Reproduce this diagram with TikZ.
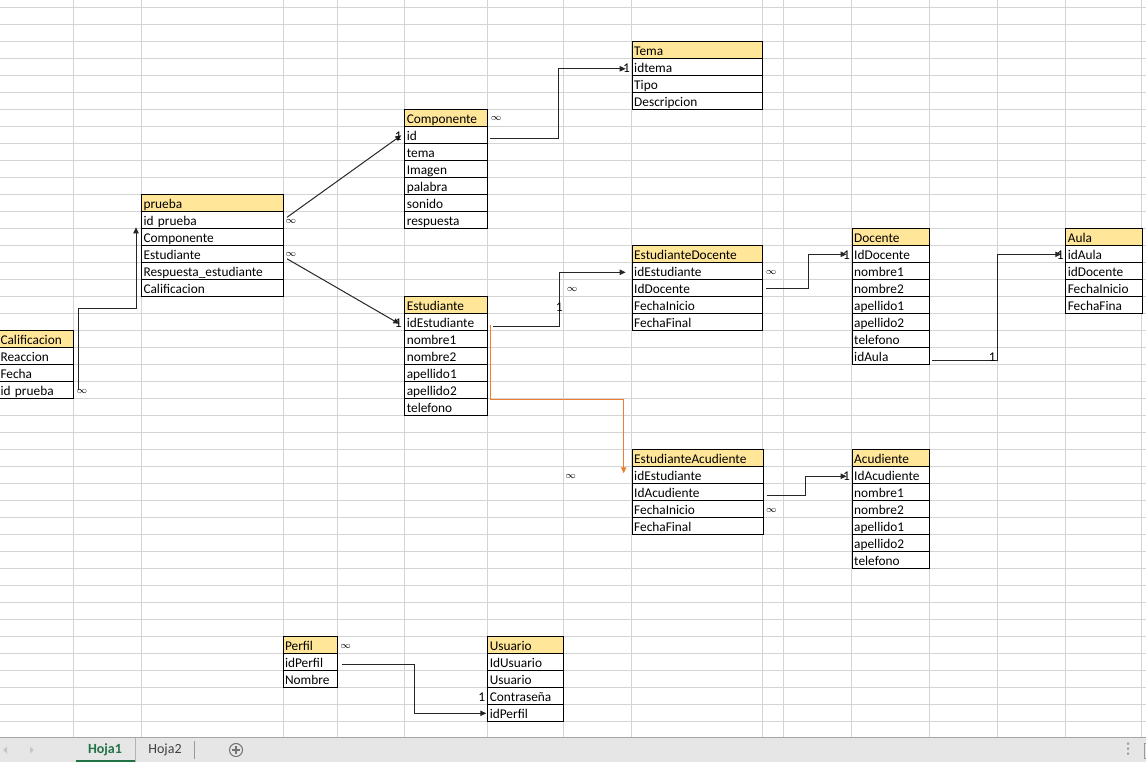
\documentclass[tikz,border=0pt]{standalone}
\usepackage{fontspec}
\setmainfont{Carlito}
\usetikzlibrary{arrows.meta, calc}
\definecolor{gridgray}{RGB}{212,212,212}
\definecolor{headyellow}{RGB}{255,230,153}
\definecolor{linkorange}{RGB}{237,125,49}
\definecolor{tabgray}{RGB}{230,230,230}
\definecolor{excelgreen}{RGB}{33,115,70}

% one table: name, left, top, width (px), title, fields
\newcommand{\ertable}[6]{%
  \pgfmathsetmacro{\tw}{#4*0.75-3}%
  \node[hdr, text width=\tw pt, anchor=north west] (#1-0) at (#2,#3) {#5};%
  \foreach \f [count=\i] in {#6} {%
    \node[fld, text width=\tw pt, anchor=north west] (#1-\i) at (#2,#3+17*\i) {\f};%
  }%
}

\begin{document}
\begin{tikzpicture}[x=0.75pt, y=-0.75pt,
  gridline/.style={draw=gridgray, line width=0.75pt},
  fld/.style={draw=black, line width=0.75pt, fill=white, minimum height=12.75pt, inner xsep=1.5pt, inner ysep=0pt, text height=8pt, text depth=0pt, font=\fontsize{10}{12}\selectfont, align=left},
  hdr/.style={fld, fill=headyellow},
  conn/.style={draw=black!85, line width=0.75pt, -{Triangle[length=4.5pt, width=4pt]}},
  link/.style={conn, draw=linkorange},
  card/.style={font=\fontsize{10}{12}\selectfont, inner sep=0pt},
  many/.style={font=\fontsize{7}{7}\selectfont, inner sep=0pt},
]
\useasboundingbox (0,0) rectangle (1146,762);
\clip (0,0) rectangle (1146,762);

% Sheet grid
\foreach \k in {0,...,43}
  \draw[gridline] (0,7.3+17*\k) -- (1146,7.3+17*\k);
\foreach \c in {73,141,283,337,404.3,487.3,563.3,631.7,762.3,783.3,851.7,929.3,997.3,1065.3,1141.5}
  \draw[gridline] (\c,0) -- (\c,737);

% === Tables ===
\ertable{tema}{631.7}{41.3}{130.6}{Tema}{idtema, Tipo, Descripcion}
\ertable{comp}{404.3}{109.3}{83}{Componente}{id, tema, Imagen, palabra, sonido, respuesta}
\ertable{prueba}{141}{194.3}{142}{prueba}{id prueba, Componente, Estudiante, Respuesta\_estudiante, Calificacion}
\ertable{calif}{-2}{330.3}{75}{Calificacion}{Reaccion, Fecha, id prueba}
\ertable{est}{404.3}{296.3}{83}{Estudiante}{idEstudiante, nombre1, nombre2, apellido1, apellido2, telefono}
\ertable{edoc}{631.7}{245.3}{130.6}{EstudianteDocente}{idEstudiante, IdDocente, FechaInicio, FechaFinal}
\ertable{doc}{851.7}{228.3}{77.6}{Docente}{IdDocente, nombre1, nombre2, apellido1, apellido2, telefono, idAula}
\ertable{aula}{1065.3}{228.3}{76.2}{Aula}{idAula, idDocente, FechaInicio, FechaFina}
\ertable{eacu}{631.7}{449.3}{130.8}{EstudianteAcudiente}{idEstudiante, IdAcudiente, FechaInicio, FechaFinal}
\ertable{acud}{851.7}{449.3}{77.6}{Acudiente}{IdAcudiente, nombre1, nombre2, apellido1, apellido2, telefono}
\ertable{perfil}{282.5}{636.3}{54.2}{Perfil}{idPerfil, Nombre}
\ertable{usu}{487.3}{636.3}{76}{Usuario}{IdUsuario, Usuario, Contraseña, idPerfil}

% === Relations ===
% prueba -> Componente
\draw[conn] ($(prueba-1.east)+(3,-3)$) -- ($(comp-1.west)+(-3,0)$);
\node[many] (inf-pc) at ($(prueba-1.east)+(7,1.5)$) {$\infty$};
\node[card, anchor=east] (one-pc) at ($(comp-1.west)+(-2.5,0.5)$) {1};

% prueba -> Estudiante
\draw[conn] ($(prueba-3.east)+(3,4.5)$) -- ($(est-1.west)+(-5,1.5)$);
\node[many] (inf-pe) at ($(prueba-3.east)+(7,0.5)$) {$\infty$};
\node[card, anchor=east] (one-pe) at ($(est-1.west)+(-2.5,1)$) {1};

% Calificacion -> prueba
\draw[conn] ($(calif-3.east)+(4,0)$) -- ++(0,-82) -| ($(prueba-1.south west)+(-5,-2)$);
\node[many] (inf-cp) at ($(calif-3.east)+(8,1)$) {$\infty$};

% Componente -> Tema
\draw[conn] ($(comp-1.east)+(2,3)$) -- ++(68,0) |- ($(tema-1.west)+(-6,1.5)$);
\node[many] (inf-ct) at ($(comp-0.east)+(8,0.5)$) {$\infty$};
\node[card, anchor=east] (one-ct) at ($(tema-1.west)+(-1.5,1)$) {1};

% Estudiante -> EstudianteDocente
\draw[conn] ($(est-1.east)+(5,4)$) -- ++(66,0) |- ($(edoc-1.west)+(-6,1)$);
\node[card] (one-ed) at ($(est-1.east)+(71,-15)$) {1};
\node[many] (inf-ed) at ($(est-1.east)+(84,-33)$) {$\infty$};

% Estudiante -> EstudianteAcudiente
\draw[link] ($(est-1.east)+(2,3)$) -- ($(est-5.south east)+(2,0)$) -| ($(eacu-1.west)+(-8,-2)$);
\node[many] (inf-ea) at ($(eacu-1.west)+(-61,1)$) {$\infty$};

% EstudianteDocente -> Docente
\draw[conn] ($(edoc-2.east)+(3,0.5)$) -- ++(42,0) |- ($(doc-1.west)+(-5,0)$);
\node[many] (inf-dd) at ($(edoc-1.east)+(8,1)$) {$\infty$};
\node[card, anchor=east] (one-dd) at ($(doc-1.west)+(-1.5,1)$) {1};

% Docente -> Aula
\draw[conn] ($(doc-7.east)+(2,4)$) -- ++(65,0) |- ($(aula-1.west)+(-4,0)$);
\node[card] (one-da) at ($(doc-7.east)+(62,0.5)$) {1};
\node[card, anchor=east] (one-au) at ($(aula-1.west)+(-1.5,1)$) {1};

% EstudianteAcudiente -> Acudiente
\draw[conn] ($(eacu-2.east)+(3,3)$) -- ++(39,0) |- ($(acud-1.west)+(-5,1)$);
\node[many] (inf-aa) at ($(eacu-3.east)+(8,1)$) {$\infty$};
\node[card, anchor=east] (one-aa) at ($(acud-1.west)+(-1.5,1)$) {1};

% Perfil -> Usuario
\draw[conn] ($(perfil-1.east)+(4,2)$) -- ++(73,0) |- ($(usu-4.west)+(-1,0)$);
\node[many] (inf-pu) at ($(perfil-0.east)+(8,1)$) {$\infty$};
\node[card, anchor=east] (one-pu) at ($(usu-3.west)+(-2,1)$) {1};

% === Sheet tabs ===
\fill[tabgray] (0,737) rectangle (1146,762);
\draw[black!35, line width=0.75pt] (0,737) -- (1146,737);
\fill[black!22] (3,750) -- (7,746.5) -- (7,753.5) -- cycle;
\fill[black!22] (34,750) -- (30,746.5) -- (30,753.5) -- cycle;
\draw[black!30] (135,737) -- (135,762);
\draw[excelgreen, line width=1.5pt] (76,761) -- (135,761);
\node[font=\fontsize{10.5}{12}\bfseries, text=excelgreen, inner sep=0pt] (hoja1) at (105,750) {Hoja1};
\node[font=\fontsize{10.5}{12}\selectfont, text=black!75, inner sep=0pt] (hoja2) at (165,750) {Hoja2};
\draw[black!40] (194,741) -- (194,759);
\draw[black!55, line width=0.8pt] (236,750) circle (6.5);
\draw[black!55, line width=1pt] (232,750) -- (240,750) (236,746) -- (236,754);
\fill[black!40] (1127,742.5) rectangle (1129,744.5) (1127,747.5) rectangle (1129,749.5) (1127,752.5) rectangle (1129,754.5);
\draw[black!40, line width=0.75pt] (1150,743) -- (1144.5,743) -- (1144.5,758) -- (1150,758);
\end{tikzpicture}
\end{document}
